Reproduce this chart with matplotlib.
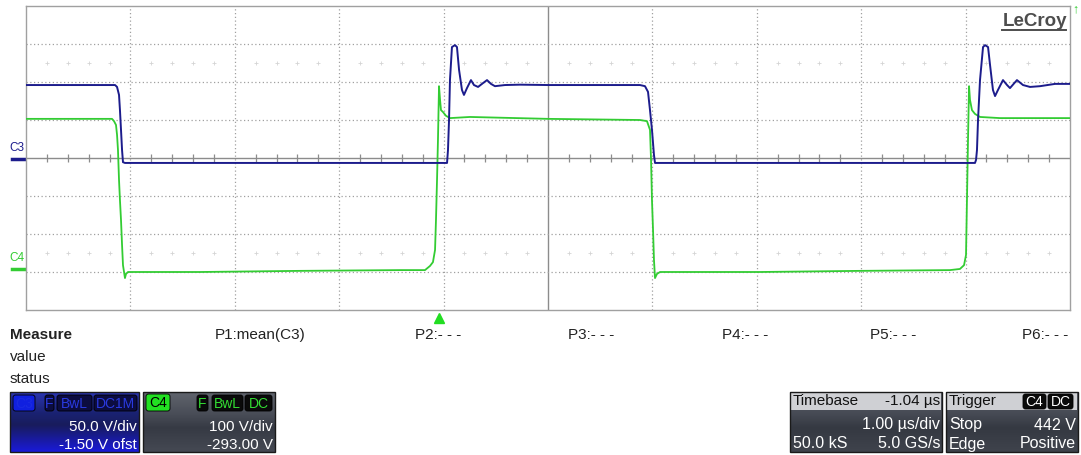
"""
    Oscilloscope screen capture (LeCroy), C3 / C4 switching waveforms.
"""

import numpy as np
from matplotlib import pyplot as plt
from matplotlib.patches import Rectangle, FancyBboxPatch
from matplotlib.colors import LinearSegmentedColormap

plt.rcParams['font.family'] = ['Liberation Sans', 'DejaVu Sans']

# scope settings
N_XDIV = 10          # 1.00 us/div
N_YDIV = 8
TRIG_T = -1.04       # us, timebase delay

# C3 trace: time (us) / level (div from screen centre)
c3_t = [-5.0, -4.147, -4.128, -4.109, -4.100, -4.090, -4.080, -4.071, -4.052,
        -0.967, -0.958, -0.948, -0.939, -0.920, -0.891, -0.872, -0.852, -0.824,
        -0.805, -0.776, -0.738, -0.709, -0.670, -0.623, -0.584, -0.546, -0.508,
        -0.412, -0.268, 0.0, 0.881, 0.929, 0.958, 0.977, 0.996, 1.015, 1.025,
        1.073, 4.090, 4.100, 4.109, 4.119, 4.138, 4.167, 4.186, 4.215, 4.234,
        4.262, 4.282, 4.310, 4.358, 4.397, 4.425, 4.492, 4.550, 4.617, 4.713,
        4.856, 5.0]
c3_v = [1.92, 1.92, 1.87, 1.66, 1.26, 0.74, 0.21, -0.11, -0.13,
        -0.13, 0.21, 1.00, 2.05, 2.92, 2.97, 2.92, 2.32, 1.79,
        1.66, 1.84, 2.05, 1.92, 1.87, 1.97, 2.05, 1.95, 1.89,
        1.92, 1.93, 1.92, 1.92, 1.89, 1.74, 1.26, 0.74, 0.08, -0.13,
        -0.13, -0.13, -0.05, 0.21, 1.00, 2.05, 2.92, 2.97, 2.92, 2.45,
        1.79, 1.63, 1.79, 2.05, 1.92, 1.84, 2.05, 1.92, 1.87, 1.89,
        1.95, 1.95]

# C4 trace: time (us) / level (div from screen centre)
c4_t = [-5.0, -4.176, -4.157, -4.138, -4.128, -4.119, -4.109, -4.100, -4.090,
        -4.080, -4.071, -4.061, -4.052, -4.042, -4.023, -3.333, -2.375, -1.418,
        -1.178, -1.130, -1.102, -1.082, -1.073, -1.063, -1.054, -1.044, -1.034,
        -1.025, -1.006, -0.977, -0.939, -0.747, 0.0, 0.881, 0.948, 0.977,
        0.987, 0.996, 1.006, 1.015, 1.025, 1.044, 1.073, 2.031, 2.989, 3.851,
        3.946, 3.985, 4.004, 4.013, 4.023, 4.033, 4.042, 4.061, 4.090, 4.138,
        4.330, 5.0]
c4_v = [1.03, 1.03, 0.97, 0.87, 0.61, 0.21, -0.58, -1.11, -1.63,
        -2.29, -2.82, -3.00, -3.16, -3.05, -3.00, -3.00, -2.97, -2.95,
        -2.95, -2.84, -2.74, -2.42, -1.63, -0.58, 0.47, 1.89, 1.53,
        1.26, 1.21, 1.11, 1.05, 1.08, 1.03, 1.00, 0.97, 0.74,
        -0.05, -1.11, -1.89, -2.68, -3.16, -3.05, -3.00, -3.00, -2.97, -2.95,
        -2.92, -2.82, -2.55, -1.11, 0.47, 1.89, 1.53, 1.26, 1.16, 1.08,
        1.05, 1.05]

# channel ground markers (div)
c3_ofs = -0.03
c4_ofs = -2.93

measure_labels = ['P1:mean(C3)', 'P2:- - -', 'P3:- - -', 'P4:- - -', 'P5:- - -', 'P6:- - -']
measure_x = [215, 415, 568, 722, 870, 1022]

C3_COL = '#1c1c8c'
C4_COL = '#33cc33'
GRID_COL = '#a0a0a0'

W, H = 1081, 455


def grad_box(ax, x0, y0, w, h, colors, stops=None):
    """矩形にグラデーションを塗る (ピクセル座標)。"""
    if stops is None:
        stops = np.linspace(0, 1, len(colors))
    cmap = LinearSegmentedColormap.from_list('g', list(zip(stops, colors)))
    grad = np.linspace(0, 1, 64).reshape(-1, 1)
    ax.imshow(grad, cmap=cmap, extent=(x0, x0 + w, y0 + h, y0), aspect='auto',
              interpolation='bilinear', zorder=1)
    ax.add_patch(Rectangle((x0, y0), w, h, fill=False, ec='#1a1a1a', lw=1.0, zorder=3))


def badge(ax, x0, y0, w, h, face, text, tcolor):
    ax.add_patch(FancyBboxPatch((x0, y0), w, h, boxstyle='round,pad=0,rounding_size=2.5',
                                fc=face, ec='#000000', lw=0.6, zorder=4))
    ax.text(x0 + w / 2, y0 + h / 2 + 0.5, text, color=tcolor, fontsize=10,
            ha='center', va='center', zorder=5)


def main():
    fig = plt.figure(figsize=(W / 100, H / 100), dpi=100)

    # UI layer in pixel coordinates
    ui = fig.add_axes([0, 0, 1, 1], zorder=0)
    ui.set_axis_off()

    # scope grid
    left, right, top, bot = 26, 1070, 6, 310
    ax = fig.add_axes([left / W, 1 - bot / H, (right - left) / W, (bot - top) / H], zorder=1)
    ax.set_xlim(-N_XDIV / 2, N_XDIV / 2)
    ax.set_ylim(-N_YDIV / 2, N_YDIV / 2)
    ax.set_xticks([])
    ax.set_yticks([])
    for s in ax.spines.values():
        s.set_color(GRID_COL)
        s.set_linewidth(1.0)

    for gx in range(-4, 5):
        if gx == 0:
            ax.axvline(0, color='#8c8c8c', lw=1.0, zorder=1)
        else:
            ax.axvline(gx, color=GRID_COL, lw=0.9, ls=(0, (1, 2)), zorder=1)
    for gy in range(-3, 4):
        if gy == 0:
            ax.axhline(0, color='#8c8c8c', lw=1.0, zorder=1)
        else:
            ax.axhline(gy, color=GRID_COL, lw=0.9, ls=(0, (1, 2)), zorder=1)

    sub = np.arange(-5, 5.001, 0.2)
    sub = sub[np.abs(sub - np.round(sub)) > 0.05]
    ax.plot(sub, np.zeros_like(sub), ls='none', marker='|', ms=6, mew=0.9,
            color='#8c8c8c', zorder=1)
    for yy in (2.5, -2.5):
        ax.plot(sub, np.full_like(sub, yy), ls='none', marker='+', ms=3, mew=0.6,
                color='#d4d4d4', zorder=1)

    ax.plot(c4_t, c4_v, color=C4_COL, lw=1.3, zorder=3)
    ax.plot(c3_t, c3_v, color=C3_COL, lw=1.4, zorder=4)

    # trigger position marker
    ax.plot([TRIG_T], [-N_YDIV / 2 - 0.2], marker='^', ms=7, color='#22dd22',
            clip_on=False, zorder=5)

    ax.text(0.9975, 0.978, 'LeCroy', transform=ax.transAxes, ha='right', va='top',
            fontsize=13.5, fontweight='bold', color='#4d4d4d')
    ax.plot([0.935, 0.9965], [0.921, 0.921], transform=ax.transAxes, color='#4d4d4d',
            lw=1.4, zorder=5)

    # channel labels on the left
    y_c3 = 158 - c3_ofs * 38
    y_c4 = 158 - c4_ofs * 38
    ui.text(9, y_c3 - 5, 'C3', color=C3_COL, fontsize=8.5, va='bottom')
    ui.plot([12, 24], [y_c3, y_c3], color=C3_COL, lw=2.5)
    ui.text(9, y_c4 - 5, 'C4', color=C4_COL, fontsize=8.5, va='bottom')
    ui.plot([12, 24], [y_c4, y_c4], color=C4_COL, lw=2.5)
    ui.text(1075, 9, '↑', color=C4_COL, fontsize=9, ha='center', va='center')

    # measurement line
    ui.text(10, 335, 'Measure', fontsize=11, fontweight='bold', color='#222222', va='center')
    ui.text(10, 357, 'value', fontsize=11, color='#222222', va='center')
    ui.text(10, 379, 'status', fontsize=11, color='#222222', va='center')
    for lab, xx in zip(measure_labels, measure_x):
        ui.text(xx, 335, lab, fontsize=11, color='#222222', va='center')

    # C3 descriptor box
    grad_box(ui, 10, 392, 129, 60, ['#2a34b0', '#1a2272', '#181c5c', '#1a1ad8'],
             [0, 0.35, 0.55, 1])
    badge(ui, 13, 395, 22, 16, '#1020e0', 'C3', '#1a2ae0')
    badge(ui, 45, 395, 9, 16, '#0c0c40', 'F', '#2a3ae0')
    badge(ui, 57, 395, 35, 16, '#0c0c40', 'BwL', '#2a3ae0')
    badge(ui, 94, 395, 43, 16, '#0c0c40', 'DC1M', '#2a3ae0')
    ui.text(137, 427, '50.0 V/div', color='white', fontsize=11, ha='right', va='center')
    ui.text(137, 445, '-1.50 V ofst', color='white', fontsize=11, ha='right', va='center')

    # C4 descriptor box
    grad_box(ui, 143, 392, 132, 60, ['#60646c', '#4a4e58', '#363a44', '#454953'],
             [0, 0.35, 0.6, 1])
    badge(ui, 146, 394, 24, 17, '#22e022', 'C4', '#000000')
    badge(ui, 197, 395, 11, 16, '#0a0a0a', 'F', '#33dd33')
    badge(ui, 212, 395, 31, 16, '#0a0a0a', 'BwL', '#33dd33')
    badge(ui, 245, 395, 27, 16, '#0a0a0a', 'DC', '#33dd33')
    ui.text(273, 427, '100 V/div', color='white', fontsize=11, ha='right', va='center')
    ui.text(273, 445, '-293.00 V', color='white', fontsize=11, ha='right', va='center')

    # timebase box
    grad_box(ui, 790, 392, 152, 60, ['#5c606a', '#474b55', '#353942', '#3f434c'],
             [0, 0.35, 0.6, 1])
    ui.add_patch(Rectangle((791, 393), 150, 17, fc='#cfd0d4', ec='none', zorder=2))
    ui.text(793, 401, 'Timebase', color='#111111', fontsize=11, va='center', zorder=5)
    ui.text(940, 401, '-1.04 µs', color='#111111', fontsize=11, ha='right', va='center', zorder=5)
    ui.text(940, 425, '1.00 µs/div', color='white', fontsize=11.5, ha='right', va='center', zorder=5)
    ui.text(793, 444, '50.0 kS', color='white', fontsize=11.5, va='center', zorder=5)
    ui.text(940, 444, '5.0 GS/s', color='white', fontsize=11.5, ha='right', va='center', zorder=5)

    # trigger box
    grad_box(ui, 946, 392, 132, 60, ['#5c606a', '#474b55', '#353942', '#3f434c'],
             [0, 0.35, 0.6, 1])
    ui.add_patch(Rectangle((947, 393), 130, 17, fc='#cfd0d4', ec='none', zorder=2))
    ui.text(949, 401, 'Trigger', color='#111111', fontsize=11, va='center', zorder=5)
    badge(ui, 1023, 394, 23, 15, '#0a0a0a', 'C4', 'white')
    badge(ui, 1048, 394, 25, 15, '#0a0a0a', 'DC', 'white')
    ui.text(949, 425, 'Stop', color='white', fontsize=11.5, va='center', zorder=5)
    ui.text(1076, 425, '442 V', color='white', fontsize=11.5, ha='right', va='center', zorder=5)
    ui.text(949, 444, 'Edge', color='white', fontsize=11.5, va='center', zorder=5)
    ui.text(1076, 444, 'Positive', color='white', fontsize=11.5, ha='right', va='center', zorder=5)

    ui.set_xlim(0, W)
    ui.set_ylim(H, 0)

    fig.savefig('out.png', dpi=100)


if __name__ == '__main__':
    main()
